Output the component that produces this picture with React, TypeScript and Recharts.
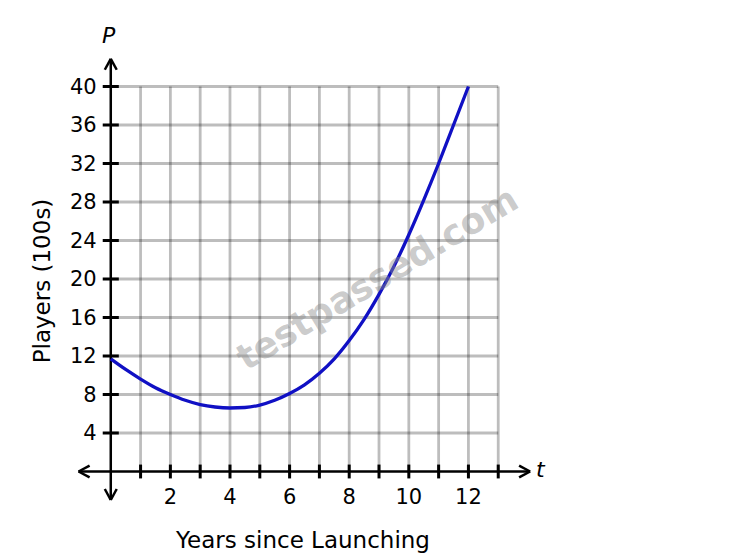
import React from "react";
import { LineChart, Line, XAxis, YAxis, ReferenceLine } from "recharts";

// values
const years = [0, 0.5, 1, 1.5, 2, 2.5, 3, 3.5, 4, 4.5, 5, 5.5, 6, 6.5, 7, 7.5, 8, 8.5, 9, 9.5, 10, 10.5, 11, 11.5, 12];
const players = [11.7, 10.6, 9.6, 8.7, 8.0, 7.4, 6.95, 6.7, 6.6, 6.65, 6.9, 7.4, 8.1, 9.0, 10.2, 11.7, 13.6, 15.8, 18.4, 21.3, 24.6, 28.2, 32.0, 36.0, 40];

const xGrid = [1, 2, 3, 4, 5, 6, 7, 8, 9, 10, 11, 12, 13];
const xLabelled = [2, 4, 6, 8, 10, 12];
const yGrid = [4, 8, 12, 16, 20, 24, 28, 32, 36, 40];

const FONT = "DejaVu Sans, Verdana, sans-serif";
const AXIS = "#000";

export default function App() {
  const data = years.map((t, i) => ({ t, p: players[i] }));
  const tickText = { fontSize: 21, fill: "#000", fontFamily: FONT };
  const grid = { stroke: "#000", strokeOpacity: 0.26, strokeWidth: 2.8 };

  return (
    <div style={{ position: "absolute", left: 0, top: 0, width: 755, height: 558, background: "#fff" }}>
      <LineChart
        width={755}
        height={558}
        data={data}
        margin={{ top: 48, right: 221, bottom: 48, left: 75 }}
      >
        <XAxis type="number" dataKey="t" domain={[-1.2, 14.2]} hide allowDataOverflow />
        <YAxis type="number" domain={[-4, 44]} hide allowDataOverflow />

        {/* grid */}
        {xGrid.map((x) => (
          <ReferenceLine key={"gx" + x} segment={[{ x, y: 0 }, { x, y: 40 }]} {...grid} />
        ))}
        {yGrid.map((y) => (
          <ReferenceLine key={"gy" + y} segment={[{ x: 0, y }, { x: 13, y }]} {...grid} />
        ))}

        {/* axes */}
        <ReferenceLine segment={[{ x: -1.08, y: 0 }, { x: 14.07, y: 0 }]} stroke={AXIS} strokeWidth={2.5} />
        <ReferenceLine segment={[{ x: 0, y: -2.96 }, { x: 0, y: 42.88 }]} stroke={AXIS} strokeWidth={2.5} />

        {/* arrow heads */}
        <ReferenceLine segment={[{ x: -1.08, y: 0 }, { x: -0.71, y: 0.62 }]} stroke={AXIS} strokeWidth={2.5} />
        <ReferenceLine segment={[{ x: -1.08, y: 0 }, { x: -0.71, y: -0.62 }]} stroke={AXIS} strokeWidth={2.5} />
        <ReferenceLine segment={[{ x: 14.07, y: 0 }, { x: 13.7, y: 0.62 }]} stroke={AXIS} strokeWidth={2.5} />
        <ReferenceLine segment={[{ x: 14.07, y: 0 }, { x: 13.7, y: -0.62 }]} stroke={AXIS} strokeWidth={2.5} />
        <ReferenceLine segment={[{ x: 0, y: 42.88 }, { x: -0.2, y: 41.74 }]} stroke={AXIS} strokeWidth={2.5} />
        <ReferenceLine segment={[{ x: 0, y: 42.88 }, { x: 0.2, y: 41.74 }]} stroke={AXIS} strokeWidth={2.5} />
        <ReferenceLine segment={[{ x: 0, y: -2.96 }, { x: -0.2, y: -1.82 }]} stroke={AXIS} strokeWidth={2.5} />
        <ReferenceLine segment={[{ x: 0, y: -2.96 }, { x: 0.2, y: -1.82 }]} stroke={AXIS} strokeWidth={2.5} />

        {/* tick marks + labels */}
        {xGrid.map((x) => (
          <ReferenceLine
            key={"tx" + x}
            segment={[{ x, y: -0.72 }, { x, y: 0.72 }]}
            stroke={AXIS}
            strokeWidth={3}
            label={
              xLabelled.includes(x)
                ? { value: String(x), position: "bottom", offset: 11, ...tickText }
                : undefined
            }
          />
        ))}
        {yGrid.map((y) => (
          <ReferenceLine
            key={"ty" + y}
            segment={[{ x: -0.27, y }, { x: 0.27, y }]}
            stroke={AXIS}
            strokeWidth={3}
            label={{ value: String(y), position: "left", offset: 6, ...tickText }}
          />
        ))}

        <Line
          type="monotone"
          dataKey="p"
          stroke="#1010c4"
          strokeWidth={3.3}
          dot={false}
          isAnimationActive={false}
        />
      </LineChart>

      {/* axis titles */}
      <div style={{ position: "absolute", left: 102, top: 22, fontFamily: FONT, fontSize: 22, fontStyle: "italic", lineHeight: "28px" }}>P</div>
      <div style={{ position: "absolute", left: 536, top: 456, fontFamily: FONT, fontSize: 22, fontStyle: "italic", lineHeight: "28px" }}>t</div>
      <div style={{ position: "absolute", left: 103, width: 400, textAlign: "center", top: 526, fontFamily: FONT, fontSize: 23, lineHeight: "28px" }}>
        Years since Launching
      </div>
      <div
        style={{
          position: "absolute",
          left: 42,
          top: 281,
          transform: "translate(-50%, -50%) rotate(-90deg)",
          whiteSpace: "nowrap",
          fontFamily: FONT,
          fontSize: 23,
          lineHeight: "28px",
        }}
      >
        Players (100s)
      </div>

      {/* watermark */}
      <div
        style={{
          position: "absolute",
          left: 377,
          top: 278,
          transform: "translate(-50%, -50%) rotate(-31deg)",
          whiteSpace: "nowrap",
          fontFamily: FONT,
          fontWeight: "bold",
          fontSize: 36,
          color: "rgba(140,140,140,0.45)",
          pointerEvents: "none",
        }}
      >
        testpassed.com
      </div>
    </div>
  );
}
